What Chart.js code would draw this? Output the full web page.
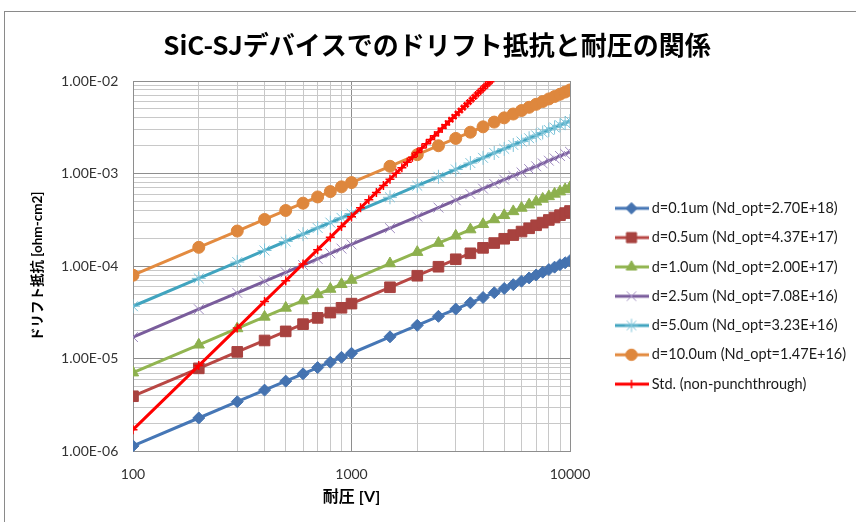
<!DOCTYPE html>
<html><head><meta charset="utf-8">
<script src="https://cdn.jsdelivr.net/npm/chart.js@4/dist/chart.umd.min.js"></script>
<style>
html,body{margin:0;padding:0;background:#fff;overflow:hidden;width:856px;height:522px;}
#frame{position:absolute;left:4px;top:11px;width:900px;height:600px;border:1px solid #8a8a8a;box-sizing:border-box;}
#c{position:absolute;left:0;top:0;}
</style></head><body>
<div id="frame"></div>
<canvas id="c" width="856" height="522"></canvas>
<script>
// ---- data ----
const titleText = 'SiC-SJデバイスでのドリフト抵抗と耐圧の関係';
const xTitle = '耐圧 [V]';
const yTitle = 'ドリフト抵抗 [ohm-cm2]';
const seriesNames = ['d=0.1um (Nd_opt=2.70E+18)','d=0.5um (Nd_opt=4.37E+17)','d=1.0um (Nd_opt=2.00E+17)','d=2.5um (Nd_opt=7.08E+16)','d=5.0um (Nd_opt=3.23E+16)','d=10.0um (Nd_opt=1.47E+16)','Std. (non-punchthrough)'];
const voltages = [100,200,300,400,500,600,700,800,900,1000,1500,2000,2500,3000,3500,4000,4500,5000,5500,6000,6500,7000,7500,8000,8500,9000,9500,10000];
const ron_d01 = [1.15e-6,2.30e-6,3.45e-6,4.60e-6,5.75e-6,6.90e-6,8.05e-6,9.20e-6,1.04e-5,1.15e-5,1.73e-5,2.30e-5,2.88e-5,3.45e-5,4.03e-5,4.60e-5,5.18e-5,5.75e-5,6.33e-5,6.90e-5,7.48e-5,8.05e-5,8.63e-5,9.20e-5,9.78e-5,1.04e-4,1.09e-4,1.15e-4];
const ron_d05 = [3.95e-6,7.90e-6,1.19e-5,1.58e-5,1.98e-5,2.37e-5,2.77e-5,3.16e-5,3.56e-5,3.95e-5,5.93e-5,7.90e-5,9.88e-5,1.19e-4,1.38e-4,1.58e-4,1.78e-4,1.98e-4,2.17e-4,2.37e-4,2.57e-4,2.77e-4,2.96e-4,3.16e-4,3.36e-4,3.56e-4,3.75e-4,3.95e-4];
const ron_d10 = [7.10e-6,1.42e-5,2.13e-5,2.84e-5,3.55e-5,4.26e-5,4.97e-5,5.68e-5,6.39e-5,7.10e-5,1.07e-4,1.42e-4,1.78e-4,2.13e-4,2.49e-4,2.84e-4,3.20e-4,3.55e-4,3.91e-4,4.26e-4,4.62e-4,4.97e-4,5.33e-4,5.68e-4,6.04e-4,6.39e-4,6.75e-4,7.10e-4];
const ron_d25 = [1.72e-5,3.44e-5,5.16e-5,6.88e-5,8.60e-5,1.03e-4,1.20e-4,1.38e-4,1.55e-4,1.72e-4,2.58e-4,3.44e-4,4.30e-4,5.16e-4,6.02e-4,6.88e-4,7.74e-4,8.60e-4,9.46e-4,1.03e-3,1.12e-3,1.20e-3,1.29e-3,1.38e-3,1.46e-3,1.55e-3,1.63e-3,1.72e-3];
const ron_d50 = [3.70e-5,7.40e-5,1.11e-4,1.48e-4,1.85e-4,2.22e-4,2.59e-4,2.96e-4,3.33e-4,3.70e-4,5.55e-4,7.40e-4,9.25e-4,1.11e-3,1.30e-3,1.48e-3,1.67e-3,1.85e-3,2.04e-3,2.22e-3,2.41e-3,2.59e-3,2.78e-3,2.96e-3,3.15e-3,3.33e-3,3.52e-3,3.70e-3];
const ron_d100 = [8.0e-5,1.6e-4,2.4e-4,3.2e-4,4.0e-4,4.8e-4,5.6e-4,6.4e-4,7.2e-4,8.0e-4,1.2e-3,1.6e-3,2.0e-3,2.4e-3,2.8e-3,3.2e-3,3.6e-3,4.0e-3,4.4e-3,4.8e-3,5.2e-3,5.6e-3,6.0e-3,6.4e-3,6.8e-3,7.2e-3,7.6e-3,8.0e-3];
const stdVoltages = [100,200,300,400,500,600,700,800,900,1000,1100,1200,1300,1400,1500,1600,1700,1800,1900,2000,2100,2200,2300,2400,2500,2600,2700,2800,2900,3000,3100,3200,3300,3400,3500,3600,3700,3800,3900,4000,4100,4200,4300,4400];
const ron_std = [1.72e-6,8.47e-6,2.15e-5,4.17e-5,6.97e-5,1.06e-4,1.51e-4,2.05e-4,2.69e-4,3.43e-4,4.27e-4,5.22e-4,6.27e-4,7.44e-4,8.72e-4,1.01e-3,1.16e-3,1.33e-3,1.50e-3,1.69e-3,1.89e-3,2.10e-3,2.33e-3,2.57e-3,2.82e-3,3.09e-3,3.37e-3,3.67e-3,3.97e-3,4.29e-3,4.63e-3,4.98e-3,5.35e-3,5.73e-3,6.12e-3,6.53e-3,6.96e-3,7.40e-3,7.85e-3,8.32e-3,8.81e-3,9.31e-3,9.83e-3,1.04e-2];
const xTickValues = [100,1000,10000];
const xTickLabels = ['100','1000','10000'];
const yTickValues = [1e-6,1e-5,1e-4,1e-3,1e-2];
const yTickLabels = ['1.00E-06','1.00E-05','1.00E-04','1.00E-03','1.00E-02'];
const xGridValues = [100,200,300,400,500,600,700,800,900,1000,2000,3000,4000,5000,6000,7000,8000,9000,10000];
const yGridMantissas = [1,2,3,4,5,6,7,8,9];

// ---- styles ----
const LAT = "Lato, 'Noto Sans CJK JP', sans-serif";
const CJKF = "'Noto Sans CJK JP', sans-serif";
const MAJOR = '#8e8e8e', MINOR = '#c8c8c8';
const styles = [
  {color:'#4677B6', mk:'#4573B0', ps:'rectRot', r:6, pbw:1, bw:3},
  {color:'#B84744', mk:'#A8423F', ps:'rect', r:7.5, pbw:1, bw:3},
  {color:'#92B551', mk:'#8DB04E', ps:'triangle', r:6.5, pbw:1, bw:3},
  {color:'#7A5D9C', mk:'#A08CC0', ps:'crossRot', r:7, pbw:1, bw:3},
  {color:'#41A4BF', mk:'#7CC3D8', ps:'star', r:7, pbw:1, bw:3},
  {color:'#E38B40', mk:'#DE873D', ps:'circle', r:6, pbw:1, bw:3},
  {color:'#FF0000', mk:'#FF0000', ps:'cross', r:4.5, pbw:1.5, bw:3}
];

const yGridValues = [];
for (let e = -6; e <= -2; e++) {
  for (const m of yGridMantissas) {
    const v = m * Math.pow(10, e);
    if (v <= 1.0000001e-2) yGridValues.push(v);
  }
}
const near = (a, b) => Math.abs(a - b) <= Math.abs(b) * 1e-6;

const sjSeries = [ron_d01, ron_d05, ron_d10, ron_d25, ron_d50, ron_d100];
const datasets = sjSeries.map((arr, i) => ({
  label: seriesNames[i],
  data: voltages.map((v, k) => ({x: v, y: arr[k]}))
}));
datasets.push({label: seriesNames[6], data: stdVoltages.map((v, k) => ({x: v, y: ron_std[k]}))});
datasets.forEach((ds, i) => {
  const s = styles[i];
  Object.assign(ds, {
    borderColor: s.color, backgroundColor: s.mk, borderWidth: s.bw,
    pointStyle: s.ps, pointRadius: s.r, pointHoverRadius: s.r,
    pointBorderColor: s.mk, pointBackgroundColor: s.mk, pointBorderWidth: s.pbw,
    tension: 0, order: 7 - i
  });
});

function legendIcon(s) {
  const cv = document.createElement('canvas');
  cv.width = 34; cv.height = 16;
  const c = cv.getContext('2d');
  c.strokeStyle = s.color; c.lineWidth = s.bw;
  c.beginPath(); c.moveTo(0, 8); c.lineTo(34, 8); c.stroke();
  c.fillStyle = s.mk; c.strokeStyle = s.mk; c.lineWidth = s.pbw;
  if (Chart.helpers && Chart.helpers.drawPoint) {
    Chart.helpers.drawPoint(c, {pointStyle: s.ps, radius: s.r * 0.95, borderWidth: s.pbw, rotation: 0}, 17, 8);
  }
  return cv;
}
const icons = styles.map(legendIcon);

new Chart(document.getElementById('c'), {
  type: 'line',
  data: {datasets},
  options: {
    responsive: false, animation: false,
    layout: {padding: {left: 18, right: 0, top: 0, bottom: 0}},
    plugins: {
      tooltip: {enabled: false},
      title: {display: true, text: titleText, color: '#000',
        font: {family: CJKF, size: 26, weight: 'bold', lineHeight: 1.2},
        padding: {top: 29.4, bottom: 20.4}},
      legend: {
        position: 'right', fullSize: false, align: 'start', maxWidth: 252.3,
        title: {display: true, text: ' ', font: {size: 10, lineHeight: 1.2}, padding: {top: 93.25, bottom: 0}},
        labels: {
          usePointStyle: true, pointStyleWidth: 26, padding: 14.8, color: '#1a1a1a',
          font: {family: LAT, size: 14.5},
          sort: (a, b) => a.datasetIndex - b.datasetIndex,
          generateLabels: (chart) => {
            const items = Chart.defaults.plugins.legend.labels.generateLabels(chart);
            items.forEach(it => { it.pointStyle = icons[it.datasetIndex]; });
            return items;
          }
        }
      }
    },
    scales: {
      x: {
        type: 'logarithmic', position: 'bottom', min: 100, max: 10000,
        afterBuildTicks: s => { s.ticks = xGridValues.map(v => ({value: v, major: xTickValues.some(t => near(v, t))})); },
        afterFit: s => { s.height = 70.5; },
        grid: {drawTicks: false, lineWidth: 1, color: c => (c.tick && c.tick.major) ? MAJOR : MINOR},
        border: {color: MAJOR},
        ticks: {autoSkip: false, maxRotation: 0, padding: 15, color: '#333', font: {family: LAT, size: 14},
          callback: v => { const i = xTickValues.findIndex(t => near(v, t)); return i >= 0 ? xTickLabels[i] : ''; }},
        title: {display: true, text: xTitle, color: '#000', font: {family: LAT, size: 16, weight: 'bold'}, padding: {top: 0, bottom: 15.5}}
      },
      y: {
        type: 'logarithmic', position: 'left', min: 1e-6, max: 1e-2,
        afterBuildTicks: s => { s.ticks = yGridValues.map(v => ({value: v, major: yTickValues.some(t => near(v, t))})); },
        afterFit: s => { s.width = 115; },
        grid: {drawTicks: false, lineWidth: 1, color: c => (c.tick && c.tick.major) ? MAJOR : MINOR},
        border: {color: MAJOR},
        ticks: {autoSkip: false, padding: 14.7, color: '#333', font: {family: LAT, size: 14},
          callback: v => { const i = yTickValues.findIndex(t => near(v, t)); return i >= 0 ? yTickLabels[i] : ''; }},
        title: {display: true, text: yTitle, color: '#000', font: {family: LAT, size: 13.5, weight: 'bold', lineHeight: 1.2}, padding: {top: 11.9, bottom: 0}}
      },
      gap: {
        type: 'linear', position: 'right', display: true,
        grid: {display: false}, border: {display: false}, ticks: {display: false},
        afterFit: s => { s.width = 33.7; }
      }
    }
  }
});
</script></body></html>
